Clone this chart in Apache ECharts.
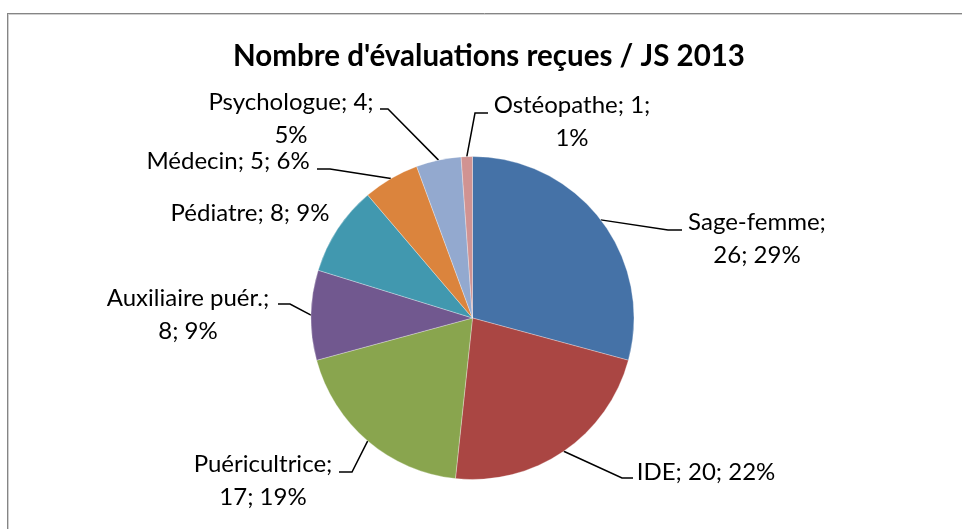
<!DOCTYPE html>
<html><head><meta charset="utf-8">
<script src="https://cdn.jsdelivr.net/npm/echarts@6/dist/echarts.min.js"></script>
<style>html,body{margin:0;padding:0;background:#fff}#c{width:962px;height:529px}</style>
</head><body><div id="c"></div>
<script>
const titleText = "Nombre d'évaluations reçues / JS 2013";
const categories = ['Sage-femme', 'IDE', 'Puéricultrice', 'Auxiliaire puér.', 'Pédiatre', 'Médecin', 'Psychologue', 'Ostéopathe'];
const values = [26, 20, 17, 8, 8, 5, 4, 1];
const colors = ['#4572A7', '#AA4643', '#89A54E', '#71588F', '#4198AF', '#DB843D', '#93A9CF', '#D19392'];
// number of "; "-separated parts kept on the first label line (0 = single line)
const wrapAfter = [1, 0, 1, 1, 0, 0, 2, 2];

// label layout (style): text block centre and leader-line bend/end points
const labelLayoutCfg = [
  { x: 757, y: 239, line: [[668, 230], [682, 230]] },
  { x: 706, y: 472, line: [[622, 478], [633, 478]] },
  { x: 263, y: 481, line: [[352, 472], [339, 472]] },
  { x: 188, y: 315, line: [[290, 304], [278, 304]] },
  { x: 250, y: 213, line: null },
  { x: 228, y: 161, line: [[330, 169], [317, 169]] },
  { x: 291, y: 119, line: [[388, 109], [380, 109]] },
  { x: 572, y: 122, line: [[475, 113], [488, 113]] }
];

const data = categories.map((name, i) => ({
  name: name,
  value: values[i],
  itemStyle: { color: colors[i] },
  labelLine: { show: labelLayoutCfg[i].line !== null }
}));

const chart = echarts.init(document.getElementById('c'), null, { renderer: 'canvas' });
chart.setOption({
  animation: false,
  backgroundColor: '#ffffff',
  title: {
    text: titleText,
    left: 489,
    top: 41,
    textAlign: 'center',
    padding: 0,
    textStyle: { fontFamily: 'Lato', fontWeight: 'bold', fontSize: 29.5, color: '#000' }
  },
  graphic: [
    { type: 'line', shape: { x1: 7, y1: 13.5, x2: 962, y2: 13.5 }, style: { stroke: '#858585', lineWidth: 1 } },
    { type: 'line', shape: { x1: 8, y1: 14.5, x2: 962, y2: 14.5 }, style: { stroke: '#d0d0d0', lineWidth: 1 } },
    { type: 'line', shape: { x1: 7.5, y1: 13, x2: 7.5, y2: 529 }, style: { stroke: '#858585', lineWidth: 1 } },
    { type: 'line', shape: { x1: 8.5, y1: 14, x2: 8.5, y2: 529 }, style: { stroke: '#d0d0d0', lineWidth: 1 } }
  ],
  series: [{
    type: 'pie',
    center: [472.5, 318],
    radius: 161.5,
    startAngle: 90,
    clockwise: true,
    avoidLabelOverlap: false,
    percentPrecision: 0,
    itemStyle: { borderColor: 'rgba(255,255,255,0.5)', borderWidth: 0.6 },
    label: {
      show: true,
      position: 'outside',
      fontFamily: 'Lato',
      fontSize: 24,
      lineHeight: 33,
      color: '#000',
      align: 'center',
      formatter: function (p) {
        const i = p.dataIndex;
        const parts = [p.name, String(p.value), Math.round(p.percent) + '%'];
        const w = wrapAfter[i];
        if (!w) return parts.join('; ');
        return parts.slice(0, w).join('; ') + ';\n' + parts.slice(w).join('; ');
      }
    },
    labelLine: { show: true, length: 10, length2: 10, lineStyle: { color: '#000', width: 1.5 } },
    labelLayout: function (params) {
      const cfg = labelLayoutCfg[params.dataIndex];
      const out = { x: cfg.x, y: cfg.y, align: 'center', verticalAlign: 'middle' };
      if (cfg.line && params.labelLinePoints) {
        out.labelLinePoints = [params.labelLinePoints[0]].concat(cfg.line);
      }
      return out;
    },
    data: data
  }]
});
</script>
</body></html>
